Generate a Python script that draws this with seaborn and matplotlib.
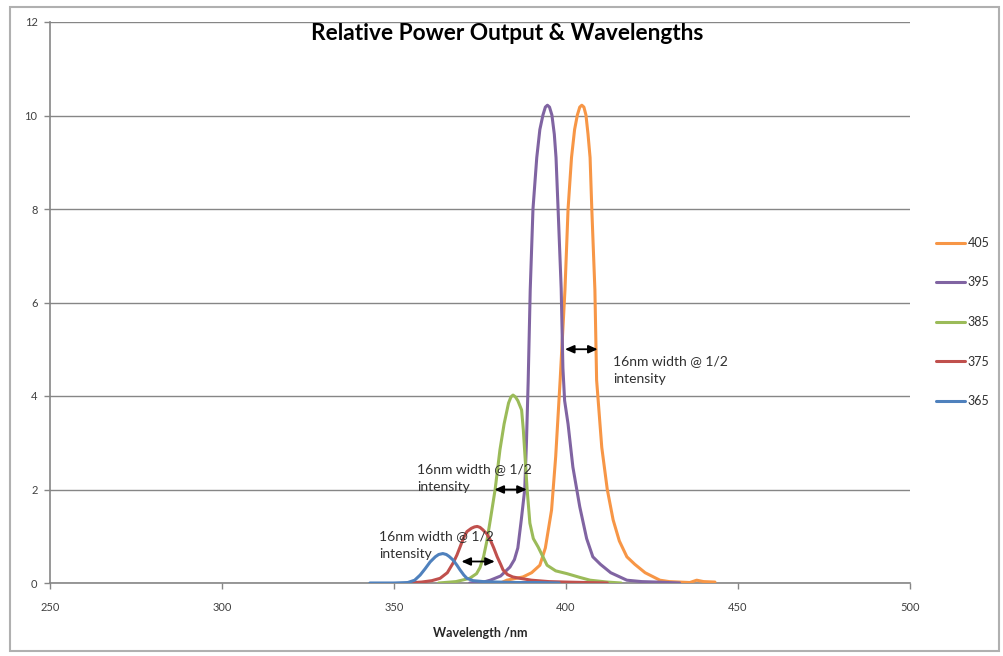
import matplotlib
matplotlib.use("Agg")
import matplotlib.pyplot as plt
import seaborn as sns
import pandas as pd
from matplotlib.patches import Rectangle

# ---------------- data ----------------
wl_365 = [343, 350, 354, 356, 357.6, 359, 360.5, 362, 363, 364.2, 365.2, 366, 367.2,
          368.3, 369.2, 370.3, 371.2, 373, 376, 380, 386, 392, 398]
val_365 = [0, 0, 0.01, 0.06, 0.17, 0.3, 0.45, 0.56, 0.61, 0.63, 0.61, 0.57, 0.49,
           0.38, 0.28, 0.17, 0.1, 0.05, 0.03, 0.02, 0.01, 0.01, 0]

wl_375 = [354, 358, 361, 363.4, 365.5, 367.2, 368.3, 369.2, 370.2, 371.2, 372.5,
          373.4, 374.2, 375, 375.8, 377, 378, 379, 380, 381, 381.7, 383, 384.5,
          386.6, 390, 395, 400, 406, 412]
val_375 = [0, 0.02, 0.05, 0.1, 0.22, 0.43, 0.6, 0.77, 0.96, 1.1, 1.17,
           1.2, 1.21, 1.19, 1.14, 1.05, 0.92, 0.75, 0.56, 0.4, 0.28, 0.18, 0.13,
           0.1, 0.06, 0.03, 0.02, 0.01, 0]

wl_385 = [363, 368, 372, 374, 375, 376, 377, 378, 379.4, 380.8, 382, 383.3, 384,
          384.6, 385.3, 386, 387.1, 387.6, 388.7, 389.5, 390.5, 391.9, 394.5, 397,
          400.3, 404, 407, 412, 416]
val_385 = [0, 0.03, 0.1, 0.2, 0.33, 0.55, 0.9, 1.35, 2.0, 2.85, 3.4, 3.85, 3.98,
           4.02, 3.98, 3.9, 3.7, 3.27, 2.0, 1.28, 0.95, 0.77, 0.38, 0.26,
           0.2, 0.12, 0.06, 0.02, 0]

wl_395 = [372, 376, 378, 381, 383.7, 385, 386, 387, 388, 388.5, 389, 389.6, 390.4,
          391.5, 392.4, 393.3, 394.0, 394.6, 395.2, 395.9, 396.6, 397.1, 397.7,
          398.6, 399.1, 399.6, 400.6, 402, 404, 406, 407.8, 410, 413, 417.7, 422,
          426.5, 433]
val_395 = [0, 0.02, 0.06, 0.15, 0.34, 0.5, 0.75, 1.35, 2.0, 3.0, 4.3, 6.27, 8.0,
           9.1, 9.7, 10.01, 10.18, 10.22, 10.18, 10.01, 9.6, 9.1, 8.0,
           6.3, 4.6, 3.9, 3.4, 2.48, 1.63, 0.95, 0.56, 0.4, 0.22, 0.06, 0.03,
           0.02, 0]

wl_405 = [381, 382.8, 387.5, 390, 392.4, 394, 395.8, 397, 398.3, 399.7, 400.6,
          401.6, 402.5, 403.3, 404, 404.6, 405.2, 405.8, 406.4, 407, 407.5, 408.4,
          408.9, 410.4, 412, 413.7, 415.5, 417.7, 420, 423, 427.3, 430, 433, 436,
          438, 440, 443.3]
val_405 = [0, 0.06, 0.13, 0.22, 0.38, 0.75, 1.56, 2.7, 4.34, 6.27, 8.0,
           9.1, 9.7, 10.01, 10.18, 10.22, 10.18, 10.01, 9.6, 9.1, 8.0, 6.27,
           4.34, 2.9, 2.0, 1.35, 0.9, 0.56, 0.4, 0.22, 0.06, 0.03, 0.02, 0.01,
           0.06, 0.03, 0.02]

series_names = ["405", "395", "385", "375", "365"]
series_colors = ["#F79646", "#8064A2", "#9BBB59", "#C0504D", "#4F81BD"]

x_ticks = [250, 300, 350, 400, 450, 500]
y_ticks = [0, 2, 4, 6, 8, 10, 12]

title = "Relative Power Output & Wavelengths"
x_label = "Wavelength /nm"
note_text = "16nm width @ 1/2\nintensity"
# annotation arrows: (x_start, x_end, y) and text anchors (x, y)
arrows = [(399.7, 409.2, 5.0), (379.2, 388.6, 2.0), (369.6, 379.3, 0.46)]
notes = [(413.7, 4.55), (356.7, 2.24), (345.6, 0.81)]

# ---------------- frame ----------------
frames = []
for name, wl, val in [("365", wl_365, val_365), ("375", wl_375, val_375),
                      ("385", wl_385, val_385), ("395", wl_395, val_395),
                      ("405", wl_405, val_405)]:
    frames.append(pd.DataFrame({"wl": wl, "val": val, "series": name}))
df = pd.concat(frames, ignore_index=True)

sns.set_theme(style="white")
plt.rcParams["font.family"] = ["Lato", "DejaVu Sans"]

fig = plt.figure(figsize=(10.04, 6.56), dpi=100)
ax = fig.add_axes([50 / 1004, 1 - 583 / 656, 860 / 1004, 561 / 656])

palette = dict(zip(series_names, series_colors))
sns.lineplot(data=df, x="wl", y="val", hue="series", hue_order=series_names,
             palette=palette, sort=False, estimator=None, linewidth=2.2,
             ax=ax, legend=True, zorder=3)
for ln in ax.get_lines():
    ln.set_solid_joinstyle("round")

ax.set_xlim(250, 500)
ax.set_ylim(0, 12)
ax.set_xticks(x_ticks)
ax.set_yticks(y_ticks)
ax.set_xticklabels([str(t) for t in x_ticks], fontsize=8, color="#404040")
ax.set_yticklabels([str(t) for t in y_ticks], fontsize=8, color="#404040")
ax.tick_params(axis="x", length=4, color="#868686", pad=10, width=1, bottom=True)
ax.tick_params(axis="y", length=4, color="#868686", pad=5, width=1, left=True)
ax.yaxis.grid(True, color="#868686", linewidth=1)
ax.xaxis.grid(False)
for s in ["top", "right"]:
    ax.spines[s].set_visible(False)
for s in ["left", "bottom"]:
    ax.spines[s].set_color("#868686")
    ax.spines[s].set_linewidth(1.2)
ax.set_axisbelow(True)
ax.set_ylabel("")
ax.set_xlabel(x_label, fontsize=9, fontweight="bold", labelpad=10)

leg = ax.legend(loc="center left", bbox_to_anchor=(930 / 1004, 1 - 322 / 656),
                bbox_transform=fig.transFigure, frameon=False, fontsize=9,
                handlelength=2.3, handletextpad=0.2, labelspacing=2.2,
                borderpad=0)
for line in leg.get_lines():
    line.set_linewidth(2.2)
for t in leg.get_texts():
    t.set_color("#303030")

for (x0, x1, y), (tx, ty) in zip(arrows, notes):
    ax.annotate("", xy=(x1, y), xytext=(x0, y),
                arrowprops=dict(arrowstyle="<|-|>,head_length=0.45,head_width=0.2",
                                color="black", lw=1.3, shrinkA=0, shrinkB=0),
                zorder=5)
    ax.text(tx, ty, note_text, fontsize=10, color="#303030", va="center",
            ha="left", linespacing=1.6, zorder=6)

fig.text(507 / 1004, 1 - 33 / 656, title, fontsize=16.3, fontweight="bold",
         ha="center", va="center", color="black")

fig.patches.append(Rectangle((10 / 1004, 1 - 651 / 656), 989 / 1004, 644 / 656,
                             transform=fig.transFigure, fill=False,
                             edgecolor="#B0B0B0", linewidth=1.5))

fig.savefig("out.png", dpi=100)
